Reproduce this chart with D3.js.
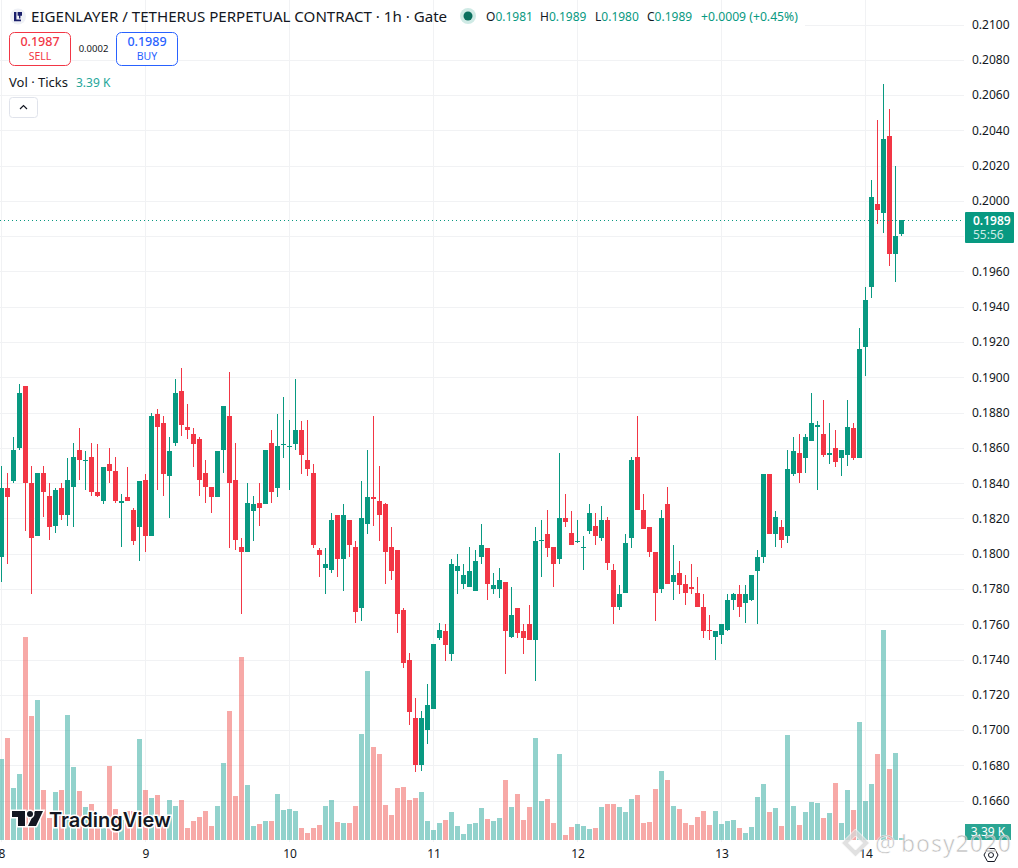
<html>
<head>
  <title>EIGENLAYER / TETHERUS 1h</title>
  <script src="https://d3js.org/d3.v7.min.js"></script>
  <style>
    html, body { margin: 0; padding: 0; background: #fff; overflow: hidden; }
    text { font-family: "Noto Sans", sans-serif; }
  </style>
</head>
<body>
  <script>
    var dayLabels = ["8", "9", "10", "11", "12", "13", "14"];
    var dayBars = [0, 24, 48, 72, 96, 120, 144];
    var priceTicks = [0.21, 0.208, 0.206, 0.204, 0.202, 0.2, 0.198, 0.196, 0.194, 0.192, 0.19, 0.188, 0.186, 0.184, 0.182, 0.18, 0.178, 0.176, 0.174, 0.172, 0.17, 0.168, 0.166];
    var hiddenTick = 0.198; // sits under the last price tag

    var open = [.1798,.1837,.1841,.1860,.1895,.1840,.1810,.1846,.1833,.1816,
      .1837,.1822,.1838,.1859,.1853,.1855,.1835,.1830,.1851,.1847,
      .1829,.1832,.1825,.1815,.1842,.1810,.1879,.1874,.1844,.1863,
      .1892,.1872,.1868,.1865,.1846,.1838,.1832,.1859,.1878,.1842,
      .1804,.1801,.1824,.1829,.1828,.1863,.1837,.1862,.1861,.1862,
      .1870,.1853,.1846,.1802,.1792,.1791,.1822,.1797,.1819,.1804,
      .1769,.1817,.1832,.1830,.1828,.1804,.1802,.1768,.1740,.1707,
      .1680,.1700,.1712,.1752,.1756,.1743,.1790,.1783,.1781,.1779,
      .1798,.1803,.1780,.1780,.1784,.1753,.1769,.1756,.1760,.1751,
      .1807,.1811,.1804,.1797,.1820,.1812,.1807,.1804,.1813,.1816,
      .1809,.1819,.1791,.1770,.1778,.1809,.1855,.1825,.1815,.1801,
      .1780,.1828,.1784,.1789,.1783,.1781,.1778,.1770,.1757,.1753,
      .1754,.1757,.1774,.1777,.1772,.1774,.1790,.1798,.1845,.1811,
      .1815,.1810,.1845,.1857,.1854,.1864,.1872,.1868,.1856,.1860,
      .1854,.1856,.1871,.1854,.1917,.1951,.1998,.1993,.2037,.1970,.1981];

    var high = [.1850,.1846,.1866,.1896,.1895,.1850,.1846,.1850,.1840,.1837,
      .1840,.1854,.1863,.1871,.1858,.1863,.1862,.1849,.1860,.1855,
      .1834,.1849,.1826,.1841,.1845,.1880,.1882,.1878,.1866,.1899,
      .1905,.1885,.1871,.1866,.1853,.1838,.1858,.1884,.1903,.1863,
      .1809,.1840,.1833,.1840,.1859,.1870,.1879,.1889,.1876,.1899,
      .1875,.1876,.1851,.1803,.1803,.1823,.1822,.1828,.1819,.1807,
      .1841,.1859,.1878,.1850,.1829,.1815,.1802,.1769,.1744,.1718,
      .1711,.1726,.1749,.1761,.1760,.1797,.1800,.1794,.1804,.1802,
      .1817,.1803,.1789,.1792,.1784,.1781,.1769,.1760,.1771,.1815,
      .1819,.1825,.1804,.1857,.1834,.1824,.1819,.1810,.1828,.1823,
      .1827,.1821,.1794,.1782,.1811,.1855,.1878,.1834,.1815,.1801,
      .1825,.1838,.1805,.1796,.1788,.1794,.1787,.1777,.1765,.1756,
      .1760,.1777,.1778,.1782,.1782,.1788,.1802,.1845,.1845,.1824,
      .1819,.1859,.1866,.1868,.1868,.1891,.1875,.1887,.1874,.1870,
      .1859,.1887,.1874,.1928,.1951,.2012,.2046,.2066,.2052,.2020,.1989];

    var low = [.1784,.1794,.1840,.1859,.1813,.1777,.1810,.1821,.1808,.1812,
      .1819,.1816,.1815,.1842,.1836,.1833,.1832,.1828,.1840,.1829,
      .1804,.1830,.1805,.1796,.1801,.1810,.1836,.1833,.1820,.1861,
      .1867,.1865,.1849,.1833,.1829,.1823,.1832,.1846,.1803,.1802,
      .1766,.1801,.1807,.1816,.1828,.1829,.1832,.1854,.1836,.1859,
      .1845,.1844,.1803,.1787,.1777,.1789,.1787,.1779,.1798,.1761,
      .1762,.1811,.1816,.1807,.1783,.1785,.1755,.1735,.1703,.1676,
      .1677,.1692,.1712,.1751,.1739,.1739,.1777,.1780,.1781,.1779,
      .1794,.1774,.1777,.1775,.1732,.1752,.1752,.1743,.1751,.1728,
      .1787,.1798,.1781,.1794,.1815,.1805,.1806,.1791,.1811,.1805,
      .1807,.1791,.1760,.1768,.1778,.1803,.1825,.1814,.1798,.1762,
      .1778,.1783,.1774,.1777,.1771,.1777,.1770,.1752,.1751,.1740,
      .1749,.1756,.1768,.1764,.1761,.1773,.1760,.1795,.1811,.1804,
      .1803,.1806,.1844,.1840,.1846,.1864,.1836,.1855,.1851,.1849,
      .1844,.1850,.1853,.1854,.1901,.1945,.1987,.1982,.1963,.1954,.1980];

    var close = [.1837,.1832,.1859,.1891,.1840,.1809,.1846,.1835,.1815,.1836,
      .1822,.1842,.1855,.1853,.1853,.1835,.1833,.1849,.1847,.1830,
      .1830,.1830,.1807,.1841,.1810,.1878,.1872,.1845,.1858,.1891,
      .1873,.1870,.1862,.1842,.1838,.1832,.1858,.1884,.1840,.1808,
      .1801,.1829,.1828,.1826,.1859,.1835,.1861,.1862,.1861,.1870,
      .1856,.1848,.1805,.1799,.1794,.1819,.1797,.1822,.1805,.1767,
      .1820,.1832,.1831,.1822,.1801,.1790,.1766,.1738,.1710,.1680,
      .1707,.1714,.1749,.1757,.1748,.1794,.1793,.1788,.1790,.1796,
      .1805,.1783,.1782,.1785,.1756,.1765,.1755,.1752,.1751,.1807,
      .1808,.1803,.1794,.1820,.1818,.1805,.1807,.1804,.1823,.1810,
      .1819,.1795,.1770,.1777,.1806,.1853,.1825,.1814,.1801,.1778,
      .1820,.1783,.1788,.1782,.1778,.1780,.1770,.1756,.1756,.1756,
      .1760,.1774,.1777,.1770,.1777,.1788,.1798,.1845,.1811,.1821,
      .1808,.1848,.1858,.1846,.1866,.1874,.1873,.1856,.1857,.1852,
      .1859,.1872,.1854,.1916,.1944,.2002,.1995,.2035,.1970,.1980,.1989];

    // tick volume in thousands
    var volume = [121.5,153,78,99,304.5,186,210,75,33,72,
      75,187.5,109.5,73.5,49.5,54,35,17.5,111,46.5,
      30,43.5,43.5,151.5,75,63,67.5,30,60,51,
      60,18,28.5,34.5,43.5,21,51,115.5,193.5,66,
      274.5,82.5,21,24,28.5,28.5,69,45,46.5,43.5,
      18,10.5,18,22.5,51,60,27,25.5,25.5,51,
      159,253.5,139.5,129,52.5,37.5,78,79.5,60,63,
      72,28.5,15,25.5,30,42,21,9,24,25.5,
      48,31.5,28.5,33,90,49.5,69,30,49.5,153,
      58.5,61.5,25.5,129,7.5,19.5,24,21,16.5,18,
      49.5,54,54,49.5,42,61.5,67.5,25.5,27,76.5,
      103.5,90,51,46.5,25.5,22.5,34.5,43.5,22.5,43.5,
      24,28.5,30,18,10.5,19.5,64.5,84,42,48,
      21,157.5,51,22.5,42,57,55.5,33,40.5,85.5,
      25.5,75,45,177,58.5,84,129,315,106.5,130.5,3.39];

    var width = 1018, height = 868, plotRight = 964;
    var upColor = "#089981", downColor = "#f23645";
    var volUp = "#26a69a", volDown = "#ef5350";
    var textColor = "#131722";

    var x = d3.scaleLinear().domain([0, 150]).range([1.5, 901.5]);
    var y = d3.scaleLinear().domain([0.166, 0.21]).range([800.7, 24.5]);
    var yVol = d3.scaleLinear().domain([0, 300]).range([840, 640]);

    var bars = d3.range(open.length);
    var isUp = function(i) { return close[i] >= open[i]; };

    var svg = d3.select("body").append("svg")
      .attr("width", width)
      .attr("height", height)
      .style("display", "block");

    // grid
    var grid = svg.append("g").attr("shape-rendering", "crispEdges").attr("stroke", "#f1f2f4");
    grid.selectAll("line.h").data(priceTicks).enter().append("line")
      .attr("x1", 0).attr("x2", plotRight)
      .attr("y1", function(d) { return Math.round(y(d)) + 0.5; })
      .attr("y2", function(d) { return Math.round(y(d)) + 0.5; });
    // the legend strip hides the top grid line
    svg.append("rect").attr("x", 0).attr("y", 22).attr("width", 805).attr("height", 6).attr("fill", "#fff");
    grid = svg.append("g").attr("shape-rendering", "crispEdges").attr("stroke", "#f1f2f4");
    grid.selectAll("line.v").data(dayBars).enter().append("line")
      .attr("y1", 0).attr("y2", 842)
      .attr("x1", function(d) { return Math.floor(x(d)) + 0.5; })
      .attr("x2", function(d) { return Math.floor(x(d)) + 0.5; });

    // volume
    svg.append("g").attr("shape-rendering", "crispEdges").attr("fill-opacity", 0.5)
      .selectAll("rect").data(bars).enter().append("rect")
      .attr("x", function(i) { return x(i) - 2.5; })
      .attr("width", 5)
      .attr("y", function(i) { return Math.round(yVol(volume[i])); })
      .attr("height", function(i) { return 840 - Math.round(yVol(volume[i])); })
      .attr("fill", function(i) { return isUp(i) ? volUp : volDown; });

    // candles
    var candles = svg.append("g").attr("shape-rendering", "crispEdges")
      .selectAll("g").data(bars).enter().append("g")
      .attr("fill", function(i) { return isUp(i) ? upColor : downColor; });
    candles.append("rect")
      .attr("x", function(i) { return x(i) - 0.5; })
      .attr("width", 1)
      .attr("y", function(i) { return Math.round(y(high[i])); })
      .attr("height", function(i) { return Math.max(1, Math.round(y(low[i])) - Math.round(y(high[i]))); });
    candles.append("rect")
      .attr("x", function(i) { return x(i) - 2.5; })
      .attr("width", 5)
      .attr("y", function(i) { return Math.round(y(Math.max(open[i], close[i]))); })
      .attr("height", function(i) { return Math.max(1, Math.round(y(Math.min(open[i], close[i]))) - Math.round(y(Math.max(open[i], close[i])))); });

    // last price line
    svg.append("line")
      .attr("x1", 0).attr("x2", plotRight)
      .attr("y1", Math.round(y(close[150])) + 0.5).attr("y2", Math.round(y(close[150])) + 0.5)
      .attr("stroke", upColor).attr("stroke-dasharray", "1 3").attr("shape-rendering", "crispEdges");

    // price axis
    var priceAxis = d3.axisRight(y)
      .tickValues(priceTicks.filter(function(d) { return d !== hiddenTick; }))
      .tickSize(0).tickPadding(0).tickFormat(d3.format(".4f"));
    var gPrice = svg.append("g").attr("transform", "translate(972,0)").call(priceAxis);
    gPrice.select(".domain").remove();
    gPrice.selectAll("text").attr("font-size", 12).attr("fill", textColor).style("font-family", "'Noto Sans', sans-serif");

    // time axis
    var timeAxis = d3.axisBottom(x).tickValues(dayBars).tickSize(0).tickPadding(0)
      .tickFormat(function(d) { return dayLabels[dayBars.indexOf(d)]; });
    var gTime = svg.append("g").attr("transform", "translate(0,849)").call(timeAxis);
    gTime.select(".domain").remove();
    gTime.selectAll("text").attr("font-size", 12).attr("fill", textColor).style("font-family", "'Noto Sans', sans-serif");

    function label(px, py, str, size, color, anchor, weight) {
      return svg.append("text").attr("x", px).attr("y", py).text(str)
        .attr("font-size", size).attr("fill", color)
        .attr("text-anchor", anchor || "start")
        .attr("font-weight", weight || 400);
    }

    // last price tag
    svg.append("rect").attr("x", 965).attr("y", 212).attr("width", 49).attr("height", 31).attr("rx", 1).attr("fill", upColor);
    label(973, 225, "0.1989", 12, "#fff", "start", 600);
    label(973, 239, "55:56", 12, "#cdebe6");

    // volume tag
    svg.append("rect").attr("x", 965).attr("y", 824).attr("width", 46).attr("height", 16).attr("fill", "#2aa593");
    label(988, 836, "3.39 K", 12, "#fff", "middle");

    // header
    svg.append("circle").attr("cx", 18).attr("cy", 16.5).attr("r", 8).attr("fill", "#eff1f6");
    svg.append("path").attr("d", "M14 12h2.4v7.6h4.6v1.6h-7z M17.6 12h4.4v3.8h-1.6v2.6h-1.4v-2.6h-1.4z").attr("fill", "#1a1f6b");
    label(31, 21.5, "EIGENLAYER / TETHERUS PERPETUAL CONTRACT · 1h · Gate", 15.1, textColor);

    svg.append("circle").attr("cx", 468).attr("cy", 16).attr("r", 8).attr("fill", "#cfeae5");
    svg.append("circle").attr("cx", 468).attr("cy", 16).attr("r", 4.5).attr("fill", "#0b6f5e");

    var legendLetters = ["O", "H", "L", "C"];
    var legendValues = ["0.1981", "0.1989", "0.1980", "0.1989"];
    var legendX = [486, 540, 595, 647];
    legendLetters.forEach(function(l, k) {
      var t = label(legendX[k], 20.5, l, 12, textColor);
      t.append("tspan").attr("fill", upColor).text(legendValues[k]);
    });
    label(701, 20.5, "+0.0009 (+0.45%)", 12.2, upColor);

    svg.append("rect").attr("x", 9.5).attr("y", 32.5).attr("width", 61).attr("height", 33).attr("rx", 5).attr("fill", "#fff").attr("stroke", downColor);
    label(40, 46, "0.1987", 12.5, downColor, "middle", 500);
    label(40, 60, "SELL", 10.5, downColor, "middle");
    label(93.5, 52, "0.0002", 9.5, textColor, "middle");
    svg.append("rect").attr("x", 116.5).attr("y", 32.5).attr("width", 61).attr("height", 33).attr("rx", 5).attr("fill", "#fff").attr("stroke", "#2962ff");
    label(147, 46, "0.1989", 12.5, "#2962ff", "middle", 500);
    label(147, 60, "BUY", 10.5, "#2962ff", "middle");

    label(9, 87, "Vol · Ticks", 13, textColor);
    label(76, 87, "3.39 K", 12, "#26a69a");

    svg.append("rect").attr("x", 9.5).attr("y", 97.5).attr("width", 28).attr("height", 20).attr("rx", 3).attr("fill", "#fff").attr("stroke", "#e0e3eb");
    svg.append("path").attr("d", "M20 109l3.5-3.5l3.5 3.5").attr("fill", "none").attr("stroke", textColor).attr("stroke-width", 1.2);

    // TradingView mark
    var tv = svg.append("g").attr("stroke", "#fff").attr("stroke-width", 3).style("paint-order", "stroke");
    tv.append("path").attr("d", "M12 811H25V826H18V817H12Z M43 811L36 826H28L35 811Z").attr("fill", "#131722");
    tv.append("circle").attr("cx", 30).attr("cy", 814).attr("r", 3).attr("fill", "#131722");
    tv.append("text").attr("x", 49).attr("y", 827).text("TradingView")
      .attr("font-size", 20).attr("font-weight", 600).attr("fill", "#131722")
      .style("font-family", "Inter, sans-serif");

    // settings icon
    svg.append("path").attr("d", "M984 855l3.5-6.5h7l3.5 6.5l-3.5 6.5h-7z").attr("fill", "none").attr("stroke", textColor);
    svg.append("circle").attr("cx", 991).attr("cy", 855).attr("r", 2.5).attr("fill", "none").attr("stroke", textColor);

    // reposter watermark
    var wm = svg.append("g").attr("opacity", 0.75);
    wm.append("path").attr("d", "M855.5 829l14 14l-14 14l-14-14z M855.5 836l7 7l-7 7l-7-7z")
      .attr("fill", "#d8d8d8").attr("fill-rule", "evenodd").attr("stroke", "#fff");
    wm.append("text").attr("x", 875).attr("y", 852).text("@")
      .attr("font-size", 23).attr("fill", "#aaa").attr("stroke", "#fff").attr("stroke-width", 0.6);
    wm.append("text").attr("x", 901).attr("y", 852).text("bosy2020")
      .attr("font-size", 23).attr("textLength", 110).attr("fill", "#aaa").attr("stroke", "#fff").attr("stroke-width", 0.6);
  </script>
</body>
</html>
